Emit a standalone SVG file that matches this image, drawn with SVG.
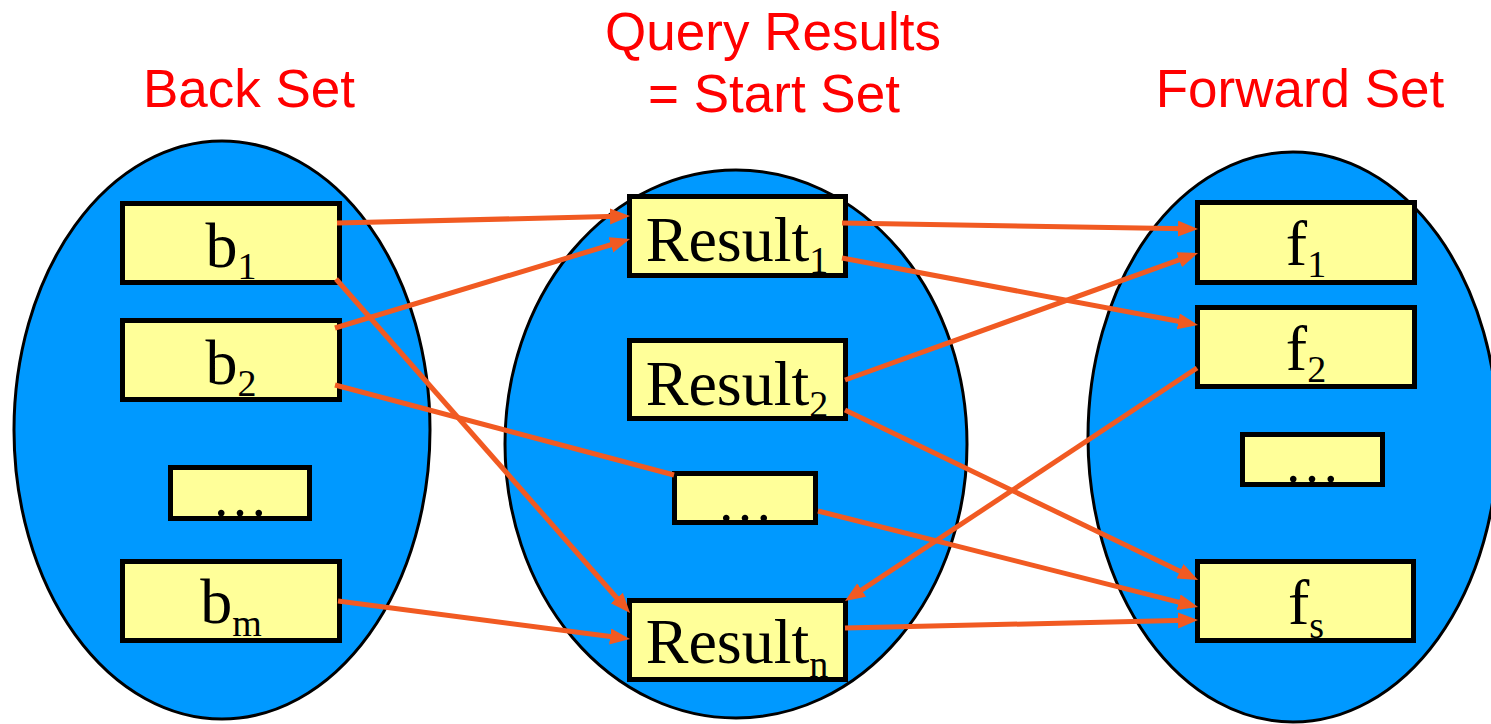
<svg xmlns="http://www.w3.org/2000/svg" width="1491" height="724" viewBox="0 0 1491 724">
<style>
.set{fill:#0099FF;stroke:#000;stroke-width:3}
.box{fill:#FFFF99;stroke:#000;stroke-width:5}
.lbl{font-family:"Liberation Serif","Times New Roman",serif;font-size:64px;fill:#000;text-anchor:middle}
.sub{font-size:38px}
.dots{font-family:"Liberation Serif","Times New Roman",serif;font-size:56px;fill:#000;text-anchor:middle}
.title{font-family:"Liberation Sans",Arial,sans-serif;font-size:53px;fill:#FF0000;text-anchor:middle}
.arr{stroke:#F15A22;stroke-width:5;fill:none}
</style>
<defs>
<marker id="ah" markerUnits="userSpaceOnUse" markerWidth="22" markerHeight="18" refX="8" refY="8" orient="auto">
<path d="M0,0 L20,8 L0,16 z" fill="#F15A22"/>
</marker>
</defs>
<g id="titles">
<text class="title" x="249" y="107">Back Set</text>
<text class="title" x="773" y="50">Query Results</text>
<text class="title" x="774" y="112">= Start Set</text>
<text class="title" x="1300" y="107">Forward Set</text>
</g>
<g id="back-set">
<ellipse class="set" cx="222" cy="430" rx="208" ry="289"/>
</g>
<g id="start-set">
<ellipse class="set" cx="736" cy="444" rx="231" ry="274"/>
</g>
<g id="forward-set">
<ellipse class="set" cx="1293" cy="437" rx="205" ry="285"/>
</g>
<g id="b1"><rect class="box" x="122.5" y="203.5" width="217" height="79"/><text class="lbl" x="231" y="267">b<tspan class="sub" dy="12">1</tspan></text></g>
<g id="b2"><rect class="box" x="122.5" y="320.5" width="217" height="79"/><text class="lbl" x="231" y="384">b<tspan class="sub" dy="12">2</tspan></text></g>
<g id="bdots"><rect class="box" x="170.5" y="467.5" width="139" height="51"/><text class="dots" x="240" y="516">…</text></g>
<g id="bm"><rect class="box" x="122.5" y="561.5" width="217" height="79"/><text class="lbl" x="231" y="623">b<tspan class="sub" dy="13">m</tspan></text></g>
<g id="result1"><rect class="box" x="629.5" y="196.5" width="216" height="79"/><text class="lbl" x="737" y="261">Result<tspan class="sub" dy="12">1</tspan></text></g>
<g id="result2"><rect class="box" x="629.5" y="340.5" width="216" height="78"/><text class="lbl" x="737" y="405">Result<tspan class="sub" dy="12">2</tspan></text></g>
<g id="rdots"><rect class="box" x="674.5" y="473.5" width="141" height="49"/><text class="dots" x="745" y="521">…</text></g>
<g id="resultn"><rect class="box" x="629.5" y="600.5" width="216" height="79"/><text class="lbl" x="737" y="663">Result<tspan class="sub" dy="14">n</tspan></text></g>
<g id="f1"><rect class="box" x="1197.5" y="202.5" width="217" height="80"/><text class="lbl" x="1306" y="265">f<tspan class="sub" dy="12">1</tspan></text></g>
<g id="f2"><rect class="box" x="1197.5" y="307.5" width="217" height="79"/><text class="lbl" x="1306" y="370">f<tspan class="sub" dy="12">2</tspan></text></g>
<g id="fdots"><rect class="box" x="1242.5" y="434.5" width="140" height="50"/><text class="dots" x="1312" y="482">…</text></g>
<g id="fs"><rect class="box" x="1197.5" y="561.5" width="216" height="79"/><text class="lbl" x="1306" y="624">f<tspan class="sub" dy="14">s</tspan></text></g>
<g id="connectors">
<line class="arr" x1="337" y1="223" x2="618" y2="216.3" marker-end="url(#ah)"/>
<line class="arr" x1="335" y1="328" x2="618.5" y2="242.5" marker-end="url(#ah)"/>
<line class="arr" x1="336" y1="279" x2="622.1" y2="604" marker-end="url(#ah)"/>
<line class="arr" x1="335" y1="385" x2="674" y2="475"/>
<line class="arr" x1="338" y1="601" x2="618.1" y2="637.5" marker-end="url(#ah)"/>
<line class="arr" x1="842" y1="223" x2="1186" y2="228.8" marker-end="url(#ah)"/>
<line class="arr" x1="842" y1="258" x2="1186.2" y2="322.8" marker-end="url(#ah)"/>
<line class="arr" x1="845" y1="380" x2="1186.7" y2="257.1" marker-end="url(#ah)"/>
<line class="arr" x1="845" y1="410" x2="1187.2" y2="574.8" marker-end="url(#ah)"/>
<line class="arr" x1="1197" y1="368" x2="855" y2="594.4" marker-end="url(#ah)"/>
<line class="arr" x1="818" y1="511" x2="1186.4" y2="604.1" marker-end="url(#ah)"/>
<line class="arr" x1="845" y1="628" x2="1186" y2="620.3" marker-end="url(#ah)"/>
</g>
</svg>
